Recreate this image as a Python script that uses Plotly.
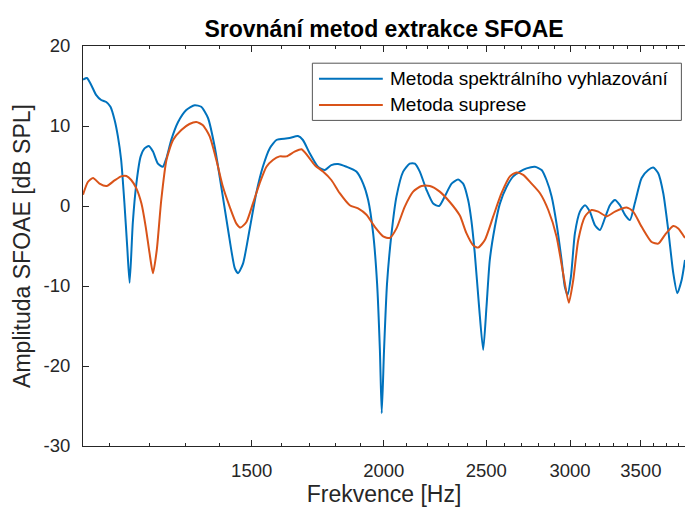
import plotly.graph_objects as go

# Frequencies [Hz] and amplitudes [dB SPL]
freq_spec = [1039, 1048, 1058, 1069, 1081, 1093, 1103, 1113, 1121, 1129, 1137, 1144, 1150, 1158,
             1167, 1178, 1188, 1199, 1210, 1223, 1236, 1246, 1259, 1278, 1301, 1325, 1344, 1364,
             1384, 1404, 1425, 1446, 1456, 1472, 1493, 1515, 1537, 1560, 1583, 1594, 1629, 1659,
             1677, 1702, 1733, 1759, 1784, 1810, 1844, 1884, 1912, 1933, 1954, 1971, 1983, 1991,
             2001, 2014, 2034, 2056, 2086, 2116, 2140, 2163, 2195, 2227, 2256, 2284, 2318, 2351,
             2377, 2403, 2420, 2438, 2461, 2483, 2501, 2519, 2547, 2575, 2613, 2651, 2690, 2729,
             2779, 2820, 2850, 2882, 2913, 2945, 2966, 2984, 3006, 3032, 3065, 3099, 3132, 3167,
             3202, 3237, 3272, 3308, 3344, 3381, 3418, 3455, 3506, 3557, 3596, 3635, 3675, 3715,
             3756, 3789, 3825, 3853]
amp_spec = [15.8, 16.0, 15.1, 13.9, 13.25, 13.0, 12.4, 10.75, 8.7, 5.75, 0.4, -5.1, -9.6, -2.1,
            2.8, 6.2, 7.2, 7.5, 6.8, 5.3, 4.9, 6.0, 8.25, 10.5, 12.0, 12.6, 12.4, 11.0,
            7.4, 2.4, -3.0, -7.8, -8.4, -7.2, -3.0, 1.6, 4.9, 7.2, 8.25, 8.35, 8.5, 8.75,
            8.25, 6.6, 4.9, 4.5, 5.1, 5.25, 4.9, 4.3, 2.8, 0.75, -3.4, -9.7, -18.0, -25.9,
            -18.0, -9.7, -3.4, 1.2, 4.3, 5.3, 5.3, 4.3, 2.0, 0.3, 0.0, 1.2, 2.8, 3.3,
            2.8, 0.75, -1.8, -5.9, -12.6, -18.0, -12.6, -6.75, -2.6, 0.3, 2.4, 3.7, 4.3, 4.7,
            4.9, 4.5, 3.25, 1.2, -2.2, -6.75, -10.1, -11.1, -8.8, -3.4, -0.7, 0.1, -0.7, -2.4,
            -3.0, -1.5, 0.1, 0.75, 0.1, -1.1, -1.75, 0.4, 3.5, 4.5, 4.8, 4.1, 1.6, -3.0,
            -8.4, -10.9, -9.25, -6.75]

freq_sup = [1039, 1050, 1062, 1077, 1094, 1113, 1129, 1142, 1154, 1167, 1180, 1191, 1201, 1210,
            1220, 1232, 1246, 1264, 1287, 1310, 1330, 1349, 1369, 1389, 1409, 1430, 1451, 1464,
            1483, 1504, 1526, 1549, 1571, 1594, 1618, 1647, 1672, 1696, 1721, 1752, 1784, 1817,
            1857, 1891, 1926, 1961, 1997, 2026, 2056, 2093, 2132, 2171, 2211, 2259, 2309, 2360,
            2394, 2429, 2456, 2492, 2538, 2584, 2632, 2670, 2709, 2759, 2810, 2861, 2913, 2955,
            2992, 3021, 3054, 3099, 3144, 3190, 3249, 3308, 3393, 3442, 3506, 3583, 3635, 3689,
            3756, 3797, 3853]
amp_sup = [1.4, 3.0, 3.5, 2.8, 2.5, 3.2, 3.7, 3.75, 3.25, 2.2, 0.3, -2.6, -5.9, -8.4,
           -5.5, 0.75, 5.75, 8.25, 9.5, 10.25, 10.5, 10.1, 8.7, 5.75, 2.4, -0.1, -2.2, -2.7,
           -2.0, 0.3, 2.8, 4.9, 5.75, 6.2, 6.2, 6.8, 7.1, 6.2, 5.1, 4.3, 3.25, 1.6,
           0.1, -0.3, -1.1, -2.6, -3.8, -4.0, -2.8, -0.1, 1.8, 2.5, 2.5, 1.8, 0.5, -1.2,
           -3.4, -4.9, -5.2, -4.25, -1.3, 1.6, 3.7, 4.2, 3.9, 2.8, 1.6, -0.5, -3.8, -8.4,
           -12.1, -9.25, -4.25, -1.3, -0.5, -0.7, -1.3, -0.7, -0.2, -0.7, -2.6, -4.5, -4.7, -3.6,
           -2.5, -2.8, -4.0]

series_names = ["Metoda spektrálního vyhlazování", "Metoda suprese"]
series_colors = ["#0072BD", "#D95319"]

x_major = [1500, 2000, 2500, 3000, 3500]
x_major_labels = ["1500", "2000", "2500", "3000", "3500"]
x_minor = [1100, 1200, 1300, 1400, 1600, 1700, 1800, 1900, 2100, 2200, 2300, 2400,
           2600, 2700, 2800, 2900, 3100, 3200, 3300, 3400, 3600, 3700, 3800]
y_ticks = [-30, -20, -10, 0, 10, 20]
y_tick_labels = ["-30", "-20", "-10", "0", "10", "20"]
x_range_hz = [1039, 3853]

import math

FONT = "Liberation Sans, Arial, Helvetica, sans-serif"
AX = "#262626"

fig = go.Figure()
fig.add_trace(go.Scatter(x=freq_spec, y=amp_spec, mode="lines", name=series_names[0],
                         line=dict(color=series_colors[0], width=2, shape="spline", smoothing=0.6),
                         showlegend=False))
fig.add_trace(go.Scatter(x=freq_sup, y=amp_sup, mode="lines", name=series_names[1],
                         line=dict(color=series_colors[1], width=2, shape="spline", smoothing=0.6),
                         showlegend=False))

# legend drawn like MATLAB's (long line samples)
lx0, lx1 = 0.381, 0.994
ly0, ly1 = 0.814, 0.957
rows_y = [0.918, 0.8525]
shapes = [dict(type="rect", xref="paper", yref="paper", x0=lx0, x1=lx1, y0=ly0, y1=ly1,
               line=dict(color="#555555", width=1), fillcolor="white", layer="above")]
annotations = []
for name, col, ry in zip(series_names, series_colors, rows_y):
    shapes.append(dict(type="line", xref="paper", yref="paper", x0=0.392, x1=0.498, y0=ry, y1=ry,
                       line=dict(color=col, width=2), layer="above"))
    annotations.append(dict(xref="paper", yref="paper", x=0.5066, y=ry, xanchor="left",
                            yanchor="middle", text=name, showarrow=False,
                            font=dict(family=FONT, size=19, color="#000000")))

fig.update_layout(
    width=685, height=509,
    margin=dict(l=83, r=0, t=46, b=63),
    paper_bgcolor="white", plot_bgcolor="white",
    title=dict(text="<b>Srovnání metod extrakce SFOAE</b>", x=0.5, xref="paper",
               y=1 - 29 / 509, yref="container", yanchor="middle",
               font=dict(family=FONT, size=23, color="#000000")),
    shapes=shapes, annotations=annotations,
    font=dict(family=FONT, color=AX),
)
fig.update_xaxes(
    type="log", range=[math.log10(x_range_hz[0]), math.log10(x_range_hz[1])],
    tickmode="array", tickvals=x_major, ticktext=x_major_labels,
    ticks="inside", ticklen=6, tickwidth=1, tickcolor=AX,
    minor=dict(tickvals=x_minor, ticks="inside", ticklen=3, tickwidth=1, tickcolor=AX, showgrid=False),
    showline=True, linecolor=AX, linewidth=1, mirror="allticks",
    showgrid=False, zeroline=False,
    tickfont=dict(family=FONT, size=18.5, color=AX),
    ticklabelstandoff=8,
    title=dict(text="Frekvence [Hz]", font=dict(family=FONT, size=23, color=AX), standoff=5),
)
fig.update_yaxes(
    range=[-30, 20], tickmode="array", tickvals=y_ticks, ticktext=y_tick_labels,
    ticks="inside", ticklen=6, tickwidth=1, tickcolor=AX,
    showline=True, linecolor=AX, linewidth=1, mirror=False,
    showgrid=False, zeroline=False,
    tickfont=dict(family=FONT, size=18.5, color=AX),
    ticklabelstandoff=8,
    title=dict(text="Amplituda SFOAE [dB SPL]", font=dict(family=FONT, size=23, color=AX), standoff=6),
)
fig.write_html("out.html")
